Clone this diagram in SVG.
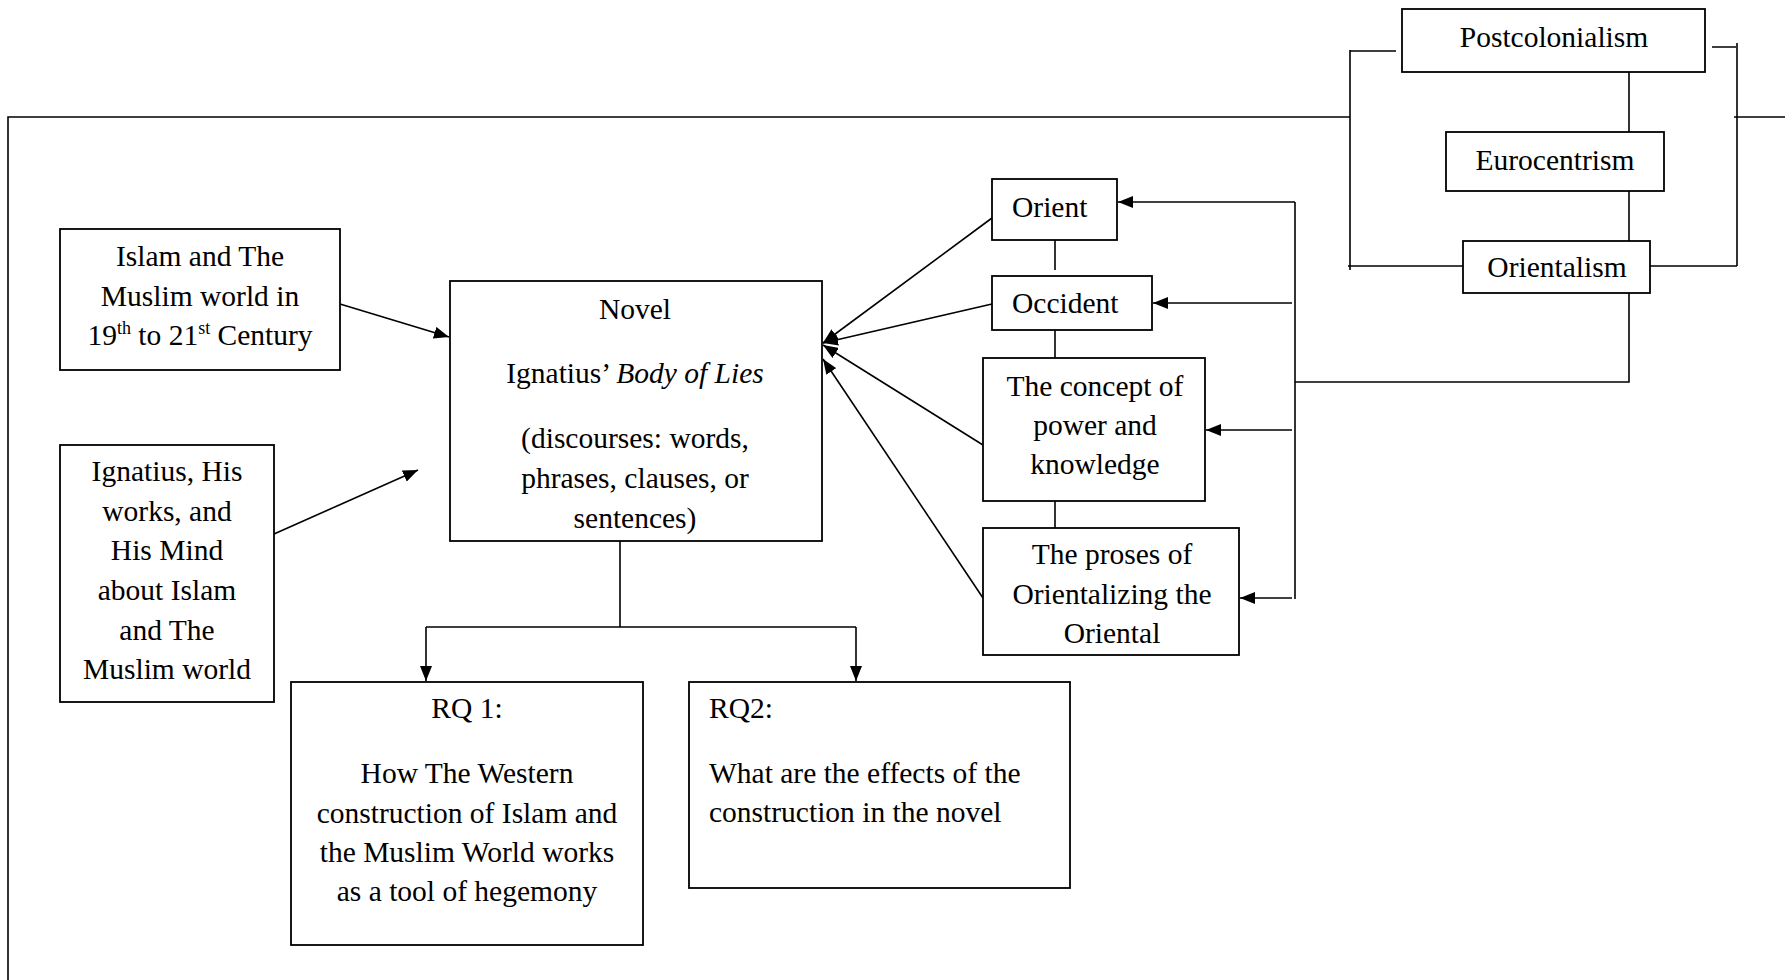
<svg xmlns="http://www.w3.org/2000/svg" width="1785" height="980" viewBox="0 0 1785 980">
<style>
.box{fill:#fff;stroke:#000;stroke-width:1.8}
.ln{fill:none;stroke:#000;stroke-width:1.6}
.ar{fill:none;stroke:#000;stroke-width:1.6;marker-end:url(#ah)}
text{font-family:"Liberation Serif","Times New Roman",serif;font-size:29.5px;fill:#000}
.c{text-anchor:middle}
</style>
<defs>
<marker id="ah" markerUnits="userSpaceOnUse" markerWidth="16" markerHeight="12" refX="15" refY="6" orient="auto">
<path d="M0,0 L15,6 L0,12 Z" fill="#000"/>
</marker>
</defs>
<rect width="1785" height="980" fill="#fff"/>
<g id="connectors">
<path class="ln" d="M8,980 V117 H1350"/>
<path class="ln" d="M1350,50 V270 M1350,51 H1396 M1348,266 H1463"/>
<path class="ln" d="M1737,43 V266 M1712,47 H1736 M1650,266 H1737 M1734,117 H1785"/>
<path class="ln" d="M1629,72 V132 M1629,191 V241 M1629,293 V382 H1295"/>
<path class="ln" d="M1295,202 V599"/>
<path class="ar" d="M1295,202 H1118"/>
<path class="ar" d="M1292,303 H1153"/>
<path class="ar" d="M1292,430 H1206"/>
<path class="ar" d="M1292,598 H1240"/>
<path class="ln" d="M1055,240 V270 M1055,324 V358 M1055,497 V528"/>
<path class="ar" d="M992,218 L823,343"/>
<path class="ar" d="M992,304 L823,343"/>
<path class="ar" d="M983,445 L823,345"/>
<path class="ar" d="M983,598 L823,359"/>
<path class="ar" d="M340,304 L449,337"/>
<path class="ar" d="M274,534 L418,470"/>
<path class="ln" d="M620,535 V627 M426,627 H856"/>
<path class="ar" d="M426,627 V681"/>
<path class="ar" d="M856,627 V681"/>
</g>
<g id="postcolonialism">
<rect class="box" x="1402" y="9" width="303" height="63"/>
<text class="c" x="1554" y="47">Postcolonialism</text>
</g>
<g id="eurocentrism">
<rect class="box" x="1446" y="132" width="218" height="59"/>
<text class="c" x="1555" y="170">Eurocentrism</text>
</g>
<g id="orientalism">
<rect class="box" x="1463" y="241" width="187" height="52"/>
<text class="c" x="1557" y="277">Orientalism</text>
</g>
<g id="orient">
<rect class="box" x="992" y="179" width="125" height="61"/>
<text x="1012" y="217">Orient</text>
</g>
<g id="occident">
<rect class="box" x="992" y="276" width="160" height="54"/>
<text x="1012" y="313">Occident</text>
</g>
<g id="concept">
<rect class="box" x="983" y="358" width="222" height="143"/>
<text class="c" x="1095" y="396">The concept of</text>
<text class="c" x="1095" y="435">power and</text>
<text class="c" x="1095" y="474">knowledge</text>
</g>
<g id="proses">
<rect class="box" x="983" y="528" width="256" height="127"/>
<text class="c" x="1112" y="564">The proses of</text>
<text class="c" x="1112" y="604">Orientalizing the</text>
<text class="c" x="1112" y="643">Oriental</text>
</g>
<g id="islam">
<rect class="box" x="60" y="229" width="280" height="141"/>
<text class="c" x="200" y="266">Islam and The</text>
<text class="c" x="200" y="306">Muslim world in</text>
<text class="c" x="200" y="345">19<tspan font-size="18" dy="-11">th</tspan><tspan dy="11"> to 21</tspan><tspan font-size="18" dy="-11">st</tspan><tspan dy="11"> Century</tspan></text>
</g>
<g id="ignatius">
<rect class="box" x="60" y="445" width="214" height="257"/>
<text class="c" x="167" y="481">Ignatius, His</text>
<text class="c" x="167" y="521">works, and</text>
<text class="c" x="167" y="560">His Mind</text>
<text class="c" x="167" y="600">about Islam</text>
<text class="c" x="167" y="640">and The</text>
<text class="c" x="167" y="679">Muslim world</text>
</g>
<g id="novel">
<rect class="box" x="450" y="281" width="372" height="260"/>
<text class="c" x="635" y="319">Novel</text>
<text class="c" x="635" y="383">Ignatius’ <tspan font-style="italic">Body of Lies</tspan></text>
<text class="c" x="635" y="448">(discourses: words,</text>
<text class="c" x="635" y="488">phrases, clauses, or</text>
<text class="c" x="635" y="528">sentences)</text>
</g>
<g id="rq1">
<rect class="box" x="291" y="682" width="352" height="263"/>
<text class="c" x="467" y="718">RQ 1:</text>
<text class="c" x="467" y="783">How The Western</text>
<text class="c" x="467" y="823">construction of Islam and</text>
<text class="c" x="467" y="862">the Muslim World works</text>
<text class="c" x="467" y="901">as a tool of hegemony</text>
</g>
<g id="rq2">
<rect class="box" x="689" y="682" width="381" height="206"/>
<text x="709" y="718">RQ2:</text>
<text x="709" y="783">What are the effects of the</text>
<text x="709" y="822">construction in the novel</text>
</g>
</svg>
